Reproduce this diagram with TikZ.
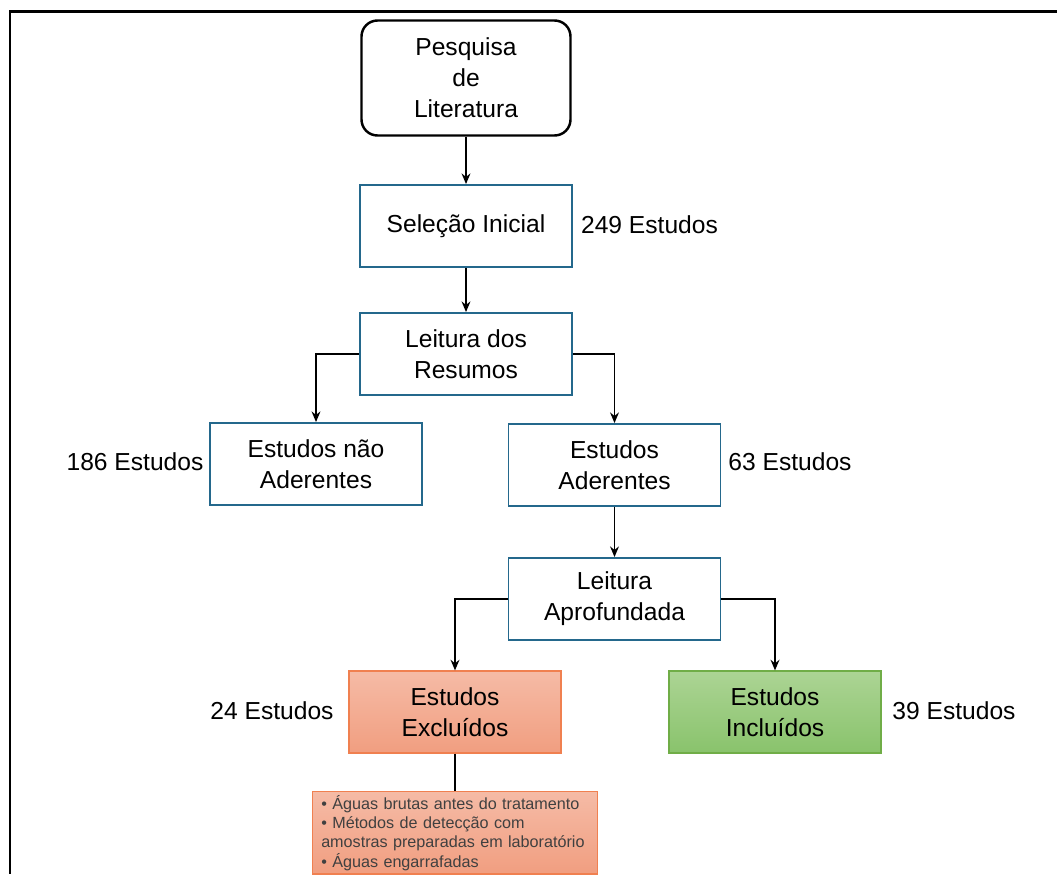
\documentclass[tikz,border=0pt]{standalone}
\usepackage{fontspec}
\setmainfont{Liberation Sans}
\usepackage{xcolor}
\usetikzlibrary{arrows.meta}
\usetikzlibrary{positioning}

\definecolor{boxblue}{RGB}{36,104,140}
\definecolor{salmontop}{RGB}{245,187,166}
\definecolor{salmonbot}{RGB}{241,158,128}
\definecolor{salmonedge}{RGB}{240,128,80}
\definecolor{greentop}{RGB}{172,212,148}
\definecolor{greenbot}{RGB}{137,195,108}
\definecolor{greenedge}{RGB}{112,173,71}
\definecolor{listtext}{RGB}{64,64,64}

\begin{document}
\begin{tikzpicture}[
  every path/.style={line width=1.1pt},
  box/.style={rectangle, draw=boxblue, minimum width=4.24cm, minimum height=1.64cm,
    align=center, font=\fontsize{14}{17.6}\selectfont},
  start/.style={box, draw=black, line width=1.4pt, rounded corners=0.32cm,
    minimum width=4.18cm, minimum height=2.3cm},
  excl/.style={box, draw=salmonedge, line width=0.7pt, top color=salmontop, bottom color=salmonbot},
  incl/.style={box, draw=greenedge, line width=0.7pt, top color=greentop, bottom color=greenbot},
  lbl/.style={font=\fontsize{14}{16}\selectfont, inner sep=0pt},
  list/.style={rectangle, draw=salmonedge, line width=0.7pt, top color=salmontop, bottom color=salmonbot,
    align=left, text width=5.35cm, inner xsep=0.18cm, inner ysep=2pt, text=listtext,
    font=\fontsize{9.2}{11}\selectfont},
]
\tikzset{>={Stealth[length=6pt, width=5pt]}}

\useasboundingbox (0,0) rectangle (21.14,-17.48);

% Frame
\draw[line width=1.7pt] (21.14,-0.22) -- (0.2,-0.22) -- (0.2,-17.48);

% Nodes - main column
\node[start] (pesquisa) at (9.32,-1.56) {Pesquisa\\de\\Literatura};
\node[box]   (selecao)  at (9.32,-4.52) {Seleção Inicial};
\node[box]   (resumos)  at (9.32,-7.08) {Leitura dos\\Resumos};

% Nodes - split after abstracts
\node[box] (naoader) at (6.32,-9.28)  {Estudos não\\Aderentes};
\node[box] (ader)    at (12.29,-9.30) {Estudos\\Aderentes};
\node[box] (aprof)   at (12.29,-11.98) {Leitura\\Aprofundada};

% Nodes - result
\node[excl] (excluidos) at (9.10,-14.24)  {Estudos\\Excluídos};
\node[incl] (incluidos) at (15.50,-14.24) {Estudos\\Incluídos};
\node[list, anchor=north] (motivos) at (9.10,-15.82)
  {• Águas brutas antes do tratamento\\
   • Métodos de detecção com\\
   amostras preparadas em laboratório\\
   • Águas engarrafadas\\[6pt]};

% Counts
\node[lbl] (n249) at (12.99,-4.50)  {249 Estudos};
\node[lbl] (n186) at (2.70,-9.24)   {186 Estudos};
\node[lbl] (n63)  at (15.80,-9.24)  {63 Estudos};
\node[lbl] (n24)  at (5.44,-14.22)  {24 Estudos};
\node[lbl] (n39)  at (19.08,-14.22) {39 Estudos};

% Edges
\draw[->] (pesquisa) -- (selecao);
\draw[->] (selecao) -- (resumos);
\draw[->] (resumos.west) -| (naoader);
\draw[->] (resumos.east) -| (ader);
\draw[->] (ader) -- (aprof);
\draw[->] (aprof.west) -| (excluidos);
\draw[->] (aprof.east) -| (incluidos);
\draw (excluidos) -- (motivos);

\end{tikzpicture}
\end{document}
